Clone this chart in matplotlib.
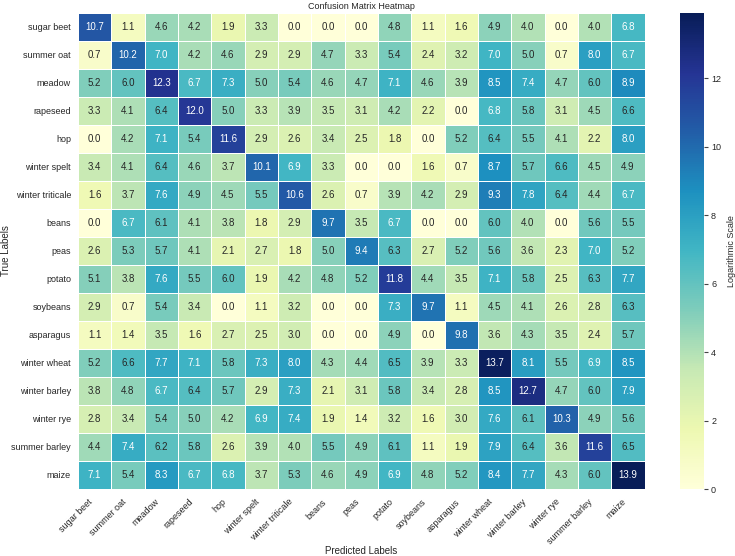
import numpy as np
import matplotlib
matplotlib.use("Agg")
import matplotlib.pyplot as plt
import seaborn as sns

labels = ["sugar beet", "summer oat", "meadow", "rapeseed", "hop", "winter spelt",
          "winter triticale", "beans", "peas", "potato", "soybeans", "asparagus",
          "winter wheat", "winter barley", "winter rye", "summer barley", "maize"]

row_sugar_beet = [10.7, 1.1, 4.6, 4.2, 1.9, 3.3, 0.0, 0.0, 0.0, 4.8, 1.1, 1.6, 4.9, 4.0, 0.0, 4.0, 6.8]
row_summer_oat = [0.7, 10.2, 7.0, 4.2, 4.6, 2.9, 2.9, 4.7, 3.3, 5.4, 2.4, 3.2, 7.0, 5.0, 0.7, 8.0, 6.7]
row_meadow = [5.2, 6.0, 12.3, 6.7, 7.3, 5.0, 5.4, 4.6, 4.7, 7.1, 4.6, 3.9, 8.5, 7.4, 4.7, 6.0, 8.9]
row_rapeseed = [3.3, 4.1, 6.4, 12.0, 5.0, 3.3, 3.9, 3.5, 3.1, 4.2, 2.2, 0.0, 6.8, 5.8, 3.1, 4.5, 6.6]
row_hop = [0.0, 4.2, 7.1, 5.4, 11.6, 2.9, 2.6, 3.4, 2.5, 1.8, 0.0, 5.2, 6.4, 5.5, 4.1, 2.2, 8.0]
row_winter_spelt = [3.4, 4.1, 6.4, 4.6, 3.7, 10.1, 6.9, 3.3, 0.0, 0.0, 1.6, 0.7, 8.7, 5.7, 6.6, 4.5, 4.9]
row_winter_triticale = [1.6, 3.7, 7.6, 4.9, 4.5, 5.5, 10.6, 2.6, 0.7, 3.9, 4.2, 2.9, 9.3, 7.8, 6.4, 4.4, 6.7]
row_beans = [0.0, 6.7, 6.1, 4.1, 3.8, 1.8, 2.9, 9.7, 3.5, 6.7, 0.0, 0.0, 6.0, 4.0, 0.0, 5.6, 5.5]
row_peas = [2.6, 5.3, 5.7, 4.1, 2.1, 2.7, 1.8, 5.0, 9.4, 6.3, 2.7, 5.2, 5.6, 3.6, 2.3, 7.0, 5.2]
row_potato = [5.1, 3.8, 7.6, 5.5, 6.0, 1.9, 4.2, 4.8, 5.2, 11.8, 4.4, 3.5, 7.1, 5.8, 2.5, 6.3, 7.7]
row_soybeans = [2.9, 0.7, 5.4, 3.4, 0.0, 1.1, 3.2, 0.0, 0.0, 7.3, 9.7, 1.1, 4.5, 4.1, 2.6, 2.8, 6.3]
row_asparagus = [1.1, 1.4, 3.5, 1.6, 2.7, 2.5, 3.0, 0.0, 0.0, 4.9, 0.0, 9.8, 3.6, 4.3, 3.5, 2.4, 5.7]
row_winter_wheat = [5.2, 6.6, 7.7, 7.1, 5.8, 7.3, 8.0, 4.3, 4.4, 6.5, 3.9, 3.3, 13.7, 8.1, 5.5, 6.9, 8.5]
row_winter_barley = [3.8, 4.8, 6.7, 6.4, 5.7, 2.9, 7.3, 2.1, 3.1, 5.8, 3.4, 2.8, 8.5, 12.7, 4.7, 6.0, 7.9]
row_winter_rye = [2.8, 3.4, 5.4, 5.0, 4.2, 6.9, 7.4, 1.9, 1.4, 3.2, 1.6, 3.0, 7.6, 6.1, 10.3, 4.9, 5.6]
row_summer_barley = [4.4, 7.4, 6.2, 5.8, 2.6, 3.9, 4.0, 5.5, 4.9, 6.1, 1.1, 1.9, 7.9, 6.4, 3.6, 11.6, 6.5]
row_maize = [7.1, 5.4, 8.3, 6.7, 6.8, 3.7, 5.3, 4.6, 4.9, 6.9, 4.8, 5.2, 8.4, 7.7, 4.3, 6.0, 13.9]

matrix = np.array([row_sugar_beet, row_summer_oat, row_meadow, row_rapeseed, row_hop,
                   row_winter_spelt, row_winter_triticale, row_beans, row_peas, row_potato,
                   row_soybeans, row_asparagus, row_winter_wheat, row_winter_barley,
                   row_winter_rye, row_summer_barley, row_maize])

sns.set_theme(style="white")
plt.rcParams['font.family'] = ['Liberation Sans', 'DejaVu Sans']

fig = plt.figure(figsize=(7.35, 5.56), dpi=100)
# heatmap and colorbar placed to match the reference layout
ax = fig.add_axes([0.106, 0.1205, 0.771, 0.856])
cax = fig.add_axes([0.925, 0.1205, 0.033, 0.856])

sns.heatmap(matrix, ax=ax, cbar_ax=cax, cmap="YlGnBu", annot=True, fmt=".1f",
            annot_kws={"size": 7}, linewidths=0.5, linecolor="white",
            xticklabels=labels, yticklabels=labels,
            cbar_kws={"label": "Logarithmic Scale"})

ax.set_title("Confusion Matrix Heatmap", fontsize=6.5, pad=3)
ax.set_xlabel("Predicted Labels", fontsize=7, labelpad=0)
ax.set_ylabel("True Labels", fontsize=7, labelpad=0.5)
ax.set_xticklabels(labels, rotation=45, ha="right", fontsize=6.5)
ax.set_yticklabels(labels, rotation=0, fontsize=6.5)
ax.tick_params(axis="y", length=0, pad=5)
ax.tick_params(axis="x", length=0, pad=6)

cax.tick_params(labelsize=6.5, length=3, width=0.8, color="#444444", pad=2)
cax.yaxis.label.set_size(6.5)
cax.yaxis.labelpad = 4

fig.savefig("out.png", dpi=100)
